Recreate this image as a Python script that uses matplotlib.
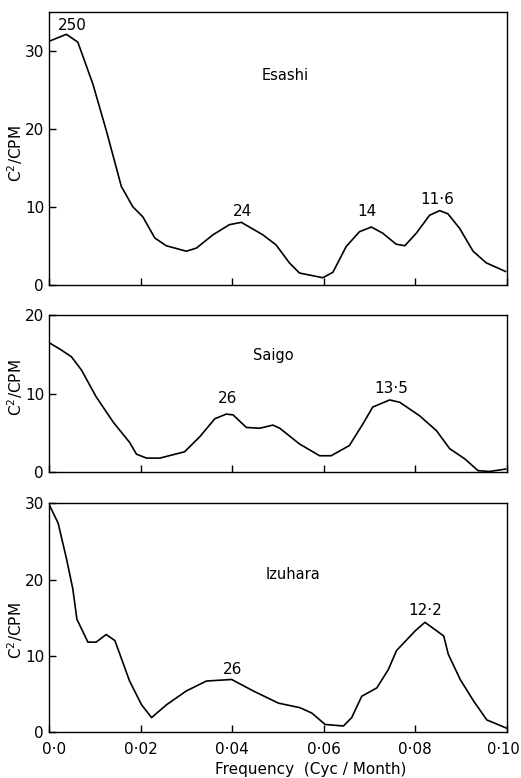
import matplotlib
matplotlib.use('Agg')
import matplotlib.pyplot as plt
from matplotlib.transforms import ScaledTranslation

# Spectra (frequency in cyc/month, C^2/CPM)
esashi_f = [0.0, 0.0038, 0.0063, 0.0096, 0.0125, 0.0158, 0.0183, 0.0205, 0.0231, 0.0256,
            0.030, 0.0322, 0.0358, 0.0394, 0.042, 0.0467, 0.0496, 0.0525, 0.0547, 0.0598,
            0.062, 0.0649, 0.0678, 0.0704, 0.0729, 0.0758, 0.0777, 0.0802, 0.0831, 0.0853,
            0.0871, 0.0897, 0.0926, 0.0955, 0.0997]
esashi_v = [31.2, 32.1, 31.1, 25.7, 19.8, 12.6, 10.0, 8.7, 6.0, 5.0,
            4.3, 4.7, 6.4, 7.7, 8.0, 6.4, 5.1, 2.8, 1.5, 0.9,
            1.6, 4.9, 6.8, 7.4, 6.6, 5.2, 5.0, 6.6, 8.9, 9.5,
            9.1, 7.2, 4.3, 2.8, 1.7]

saigo_f = [0.0, 0.0023, 0.0049, 0.0071, 0.0103, 0.014, 0.0176, 0.0191, 0.0213, 0.0242,
           0.0296, 0.0329, 0.0362, 0.0387, 0.0402, 0.0431, 0.046, 0.0489, 0.0504, 0.0547,
           0.0591, 0.0616, 0.0656, 0.0686, 0.0707, 0.0744, 0.0766, 0.0809, 0.0846, 0.0875,
           0.0908, 0.0937, 0.0962, 0.0997]
saigo_v = [16.5, 15.7, 14.7, 13.0, 9.6, 6.4, 3.8, 2.3, 1.8, 1.8,
           2.6, 4.5, 6.8, 7.4, 7.3, 5.7, 5.6, 6.0, 5.6, 3.6,
           2.1, 2.1, 3.4, 6.2, 8.3, 9.2, 8.9, 7.2, 5.3, 3.0,
           1.7, 0.2, 0.1, 0.4]

izuhara_f = [0.0, 0.002, 0.0038, 0.0052, 0.0061, 0.0085, 0.0103, 0.0125, 0.0144, 0.0176,
             0.0202, 0.0224, 0.0257, 0.030, 0.0344, 0.0399, 0.0446, 0.0501, 0.0548, 0.0574,
             0.0603, 0.0643, 0.0661, 0.0683, 0.0716, 0.0741, 0.0759, 0.080, 0.0821, 0.0862,
             0.0872, 0.0898, 0.0927, 0.0956, 0.100]
izuhara_v = [29.9, 27.4, 22.8, 18.8, 14.8, 11.8, 11.8, 12.8, 12.0, 6.7,
             3.6, 1.9, 3.6, 5.4, 6.7, 6.9, 5.4, 3.8, 3.2, 2.5,
             1.0, 0.8, 1.9, 4.7, 5.8, 8.2, 10.7, 13.3, 14.4, 12.6,
             10.2, 6.9, 4.1, 1.6, 0.5]

# Peak period labels (months) and where they sit
esashi_peaks = [('250', 0.0052, 33.2), ('24', 0.0422, 9.4), ('14', 0.0695, 9.4), ('11·6', 0.0848, 10.9)]
saigo_peaks = [('26', 0.0391, 9.4), ('13·5', 0.0747, 10.6)]
izuhara_peaks = [('26', 0.040, 8.2), ('12·2', 0.0821, 15.9)]

x_ticks = [0.0, 0.02, 0.04, 0.06, 0.08, 0.10]
x_tick_labels = ['0·0', '0·02', '0·04', '0·06', '0·08', '0·10']

panels = [
    # name, f, v, peaks, ymax, yticks, name position, axes rect
    ('Esashi', esashi_f, esashi_v, esashi_peaks, 35, [0, 10, 20, 30], (0.0515, 26.8),
     [0.094, 0.634, 0.879, 0.351]),
    ('Saigo', saigo_f, saigo_v, saigo_peaks, 20, [0, 10, 20], (0.0489, 14.9),
     [0.094, 0.393, 0.879, 0.202]),
    ('Izuhara', izuhara_f, izuhara_v, izuhara_peaks, 30, [0, 10, 20, 30], (0.0532, 20.7),
     [0.094, 0.059, 0.879, 0.294]),
]

fig = plt.figure(figsize=(5.21, 7.78), dpi=100)

for i, (name, f, v, peaks, ymax, yticks, name_pos, rect) in enumerate(panels):
    ax = fig.add_axes(rect)
    ax.plot(f, v, color='black', lw=1.2)
    ax.set_xlim(0, 0.10)
    ax.set_ylim(0, ymax)
    ax.set_yticks(yticks)
    ax.set_xticks(x_ticks)
    ax.tick_params(direction='in', length=5, width=1, labelsize=11)
    ax.tick_params(axis='x', pad=7)
    if i == 2:
        ax.set_xticklabels(x_tick_labels)
        # nudge the end labels inward like the original
        labs = ax.get_xticklabels()
        labs[0].set_transform(labs[0].get_transform() + ScaledTranslation(5 / 100, 0, fig.dpi_scale_trans))
        labs[-1].set_transform(labs[-1].get_transform() + ScaledTranslation(-4 / 100, 0, fig.dpi_scale_trans))
        labs[-1].set_fontsize(10.5)
    else:
        ax.set_xticklabels([])
    for s in ax.spines.values():
        s.set_linewidth(1.0)
    for txt, px, py in peaks:
        ax.text(px, py, txt, ha='center', va='center', fontsize=11)
    ax.text(name_pos[0], name_pos[1], name, ha='center', va='center', fontsize=10.5)
    # y label centred in figure pixels
    bb = ax.get_position()
    fig.text(0.029, bb.y0 + bb.height * [0.48, 0.54, 0.445][i], 'C$^{2}$/CPM',
             rotation=90, ha='center', va='center', fontsize=11)

fig.text(0.597, 0.011, 'Frequency  (Cyc / Month)', ha='center', va='center', fontsize=11)

fig.savefig('out.png', dpi=100)
